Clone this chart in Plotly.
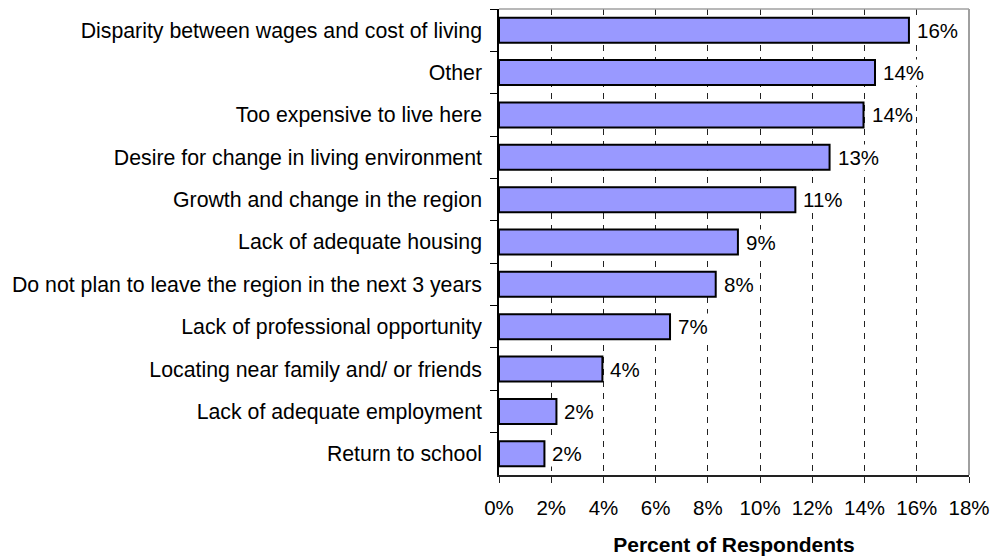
import plotly.graph_objects as go

categories = [
    "Disparity between wages and cost of living",
    "Other",
    "Too expensive to live here",
    "Desire for change in living environment",
    "Growth and change in the region",
    "Lack of adequate housing",
    "Do not plan to leave the region in the next 3 years",
    "Lack of professional opportunity",
    "Locating near family and/ or friends",
    "Lack of adequate employment",
    "Return to school",
]
values = [0.157, 0.144, 0.1396, 0.1266, 0.1135, 0.0915, 0.083, 0.0655, 0.0396, 0.022, 0.0174]
x_ticks = [0, 0.02, 0.04, 0.06, 0.08, 0.10, 0.12, 0.14, 0.16, 0.18]

FONT = "Liberation Sans, Arial, sans-serif"

fig = go.Figure(
    go.Bar(
        x=values,
        y=categories,
        orientation="h",
        marker=dict(color="#9999FF", line=dict(color="black", width=2)),
        hoverinfo="x+y",
    )
)

for v, c in zip(values, categories):
    fig.add_annotation(
        x=v, y=c, xref="x", yref="y",
        text=f"{v:.0%}",
        showarrow=False,
        xanchor="left",
        xshift=6,
        bgcolor="white",
        borderpad=1,
        font=dict(family=FONT, size=20.5, color="black"),
    )

fig.update_layout(
    width=993,
    height=558,
    margin=dict(l=499, r=24, t=9, b=83, autoexpand=False),
    paper_bgcolor="white",
    plot_bgcolor="white",
    bargap=0.41,
    showlegend=False,
    font=dict(family=FONT, color="black"),
    xaxis=dict(
        range=[0, 0.18],
        tickvals=x_ticks,
        tickformat=".0%",
        tickfont=dict(family=FONT, size=20.5, color="black"),
        showgrid=True,
        gridcolor="#222222",
        gridwidth=1,
        griddash="6px,6px",
        showline=True,
        linecolor="#222222",
        linewidth=2,
        ticks="outside",
        ticklen=6,
        tickcolor="#222222",
        zeroline=False,
        automargin=False,
        ticklabelstandoff=7,
        title=dict(text="<b>Percent of Respondents</b>", font=dict(family=FONT, size=21, color="black"), standoff=20),
    ),
    yaxis=dict(
        autorange="reversed",
        tickfont=dict(family=FONT, size=21.3, color="black"),
        showline=True,
        linecolor="black",
        linewidth=1.5,
        ticks="outside",
        tickson="boundaries",
        ticklen=7,
        tickcolor="black",
        showgrid=False,
        automargin=False,
        ticklabelstandoff=11,
    ),
)

fig.add_shape(type="line", xref="x domain", yref="y domain", x0=0, x1=1, y0=1, y1=1,
              line=dict(color="#a0a0a0", width=1.5))
fig.add_shape(type="line", xref="x domain", yref="y domain", x0=1, x1=1, y0=0, y1=1,
              line=dict(color="#a0a0a0", width=2))

fig.write_html(
    "out.html",
    config={"displayModeBar": False},
    post_script="document.body.style.margin='0';document.body.style.overflow='hidden';",
)
